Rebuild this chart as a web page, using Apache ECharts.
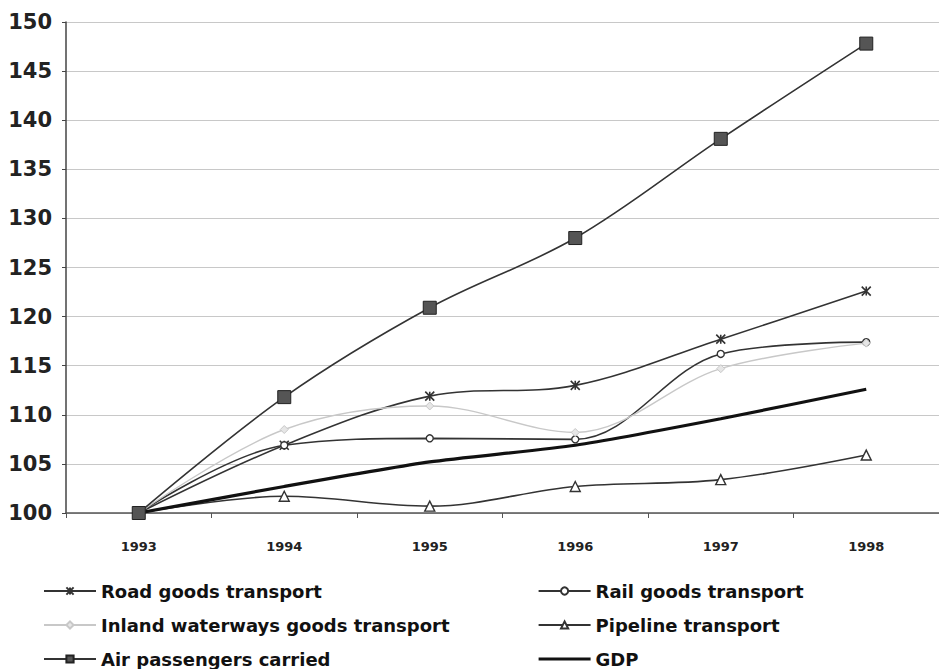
<!DOCTYPE html>
<html>
<head>
<meta charset="utf-8">
<style>
  html, body { margin: 0; padding: 0; background: #fff; }
  #chart { width: 939px; height: 669px; }
</style>
<script src="https://cdn.jsdelivr.net/npm/echarts@6/dist/echarts.min.js"></script>
</head>
<body>
<div id="chart"></div>
<script>
// transport indices, 1993 = 100
var years = ['1993', '1994', '1995', '1996', '1997', '1998'];
var road = [100, 106.9, 111.9, 113.0, 117.7, 122.6];
var rail = [100, 106.9, 107.6, 107.5, 116.2, 117.4];
var inland = [100, 108.5, 110.9, 108.2, 114.7, 117.3];
var pipeline = [100, 101.7, 100.7, 102.7, 103.4, 105.9];
var air = [100, 111.8, 120.9, 128.0, 138.1, 147.8];
var gdp = [100, 102.7, 105.2, 106.9, 109.6, 112.6];

var dark = '#333';
var light = '#c8c8c8';
var font = 'DejaVu Sans, sans-serif';

var chart = echarts.init(document.getElementById('chart'), null, { renderer: 'svg' });

function lineSeries(name, data, opts) {
  var s = {
    name: name,
    type: 'line',
    data: data,
    smooth: 0.35,
    symbolSize: 7,
    showAllSymbol: true,
    lineStyle: { color: dark, width: 1.6 },
    itemStyle: { color: '#fff', borderColor: dark, borderWidth: 1.4 },
    emphasis: { disabled: true }
  };
  for (var k in opts) s[k] = opts[k];
  return s;
}

var legendText = { color: '#111', fontFamily: font, fontSize: 18, fontWeight: 'bold' };

chart.setOption({
  animation: false,
  backgroundColor: '#fff',
  grid: { left: 66, top: 22, width: 882, height: 491 },
  xAxis: {
    type: 'category',
    data: years,
    boundaryGap: true,
    axisLine: { lineStyle: { color: '#555', width: 1.5 } },
    axisTick: { show: true, length: 5, lineStyle: { color: '#555' } },
    axisLabel: { color: '#222', fontFamily: font, fontWeight: 'bold', fontSize: 13, margin: 27 }
  },
  yAxis: {
    type: 'value',
    min: 100,
    max: 150,
    interval: 5,
    axisLine: { show: true, lineStyle: { color: '#444', width: 1.5 } },
    axisTick: { show: true, length: 4, lineStyle: { color: '#444' } },
    axisLabel: { color: '#222', fontFamily: font, fontWeight: 'bold', fontSize: 21, margin: 14 },
    splitLine: { lineStyle: { color: '#c8c8c8', width: 1 } }
  },
  legend: [
    {
      data: ['Road goods transport', 'Inland waterways goods transport', 'Air passengers carried'],
      orient: 'vertical',
      left: 38,
      top: 577,
      height: 120,
      itemWidth: 52,
      itemHeight: 9,
      itemGap: 16,
      textStyle: legendText
    },
    {
      data: ['Rail goods transport', 'Pipeline transport',
        { name: 'GDP', itemStyle: { opacity: 0 }, lineStyle: { width: 3.2, color: '#111' } }],
      orient: 'vertical',
      left: 532,
      top: 577,
      height: 120,
      itemWidth: 52,
      itemHeight: 9,
      itemGap: 16,
      textStyle: legendText
    }
  ],
  series: [
    lineSeries('Road goods transport', road, {
      symbol: 'path://M0,0L10,10M10,0L0,10M5,0L5,10',
      symbolSize: 9,
      itemStyle: { color: 'none', borderColor: dark, borderWidth: 1.6 }
    }),
    lineSeries('Rail goods transport', rail, { symbol: 'circle', symbolSize: 7 }),
    lineSeries('Inland waterways goods transport', inland, {
      symbol: 'diamond',
      symbolSize: 8,
      lineStyle: { color: light, width: 1.4 },
      itemStyle: { color: '#e6e6e6', borderColor: light, borderWidth: 1 }
    }),
    lineSeries('Pipeline transport', pipeline, { symbol: 'triangle', symbolSize: 10 }),
    lineSeries('Air passengers carried', air, {
      symbol: 'rect',
      symbolSize: 13,
      itemStyle: { color: '#555', borderColor: '#222', borderWidth: 1 }
    }),
    lineSeries('GDP', gdp, {
      symbol: 'none',
      smooth: 0.2,
      lineStyle: { color: '#111', width: 3.2 }
    })
  ]
});
</script>
</body>
</html>
